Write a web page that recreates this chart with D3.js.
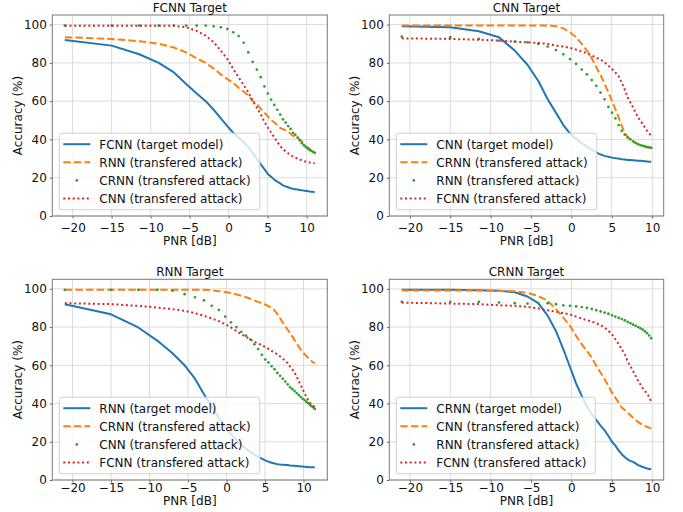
<!DOCTYPE html>
<html><head><meta charset="utf-8">
<script src="https://cdn.jsdelivr.net/npm/d3@7"></script>
<style>
body{margin:0;background:#fff;}
svg{display:block;font-family:"DejaVu Sans",sans-serif;}
</style>
</head><body>
<svg id="chart" width="683" height="512"></svg>
<script>
// ---------- DATA ----------
const pnrValues = [-21, -15, -11.46, -8.96, -7.02, -5.44, -4.1, -2.94, -1.92, -1, -0.17, 0.58, 1.28, 1.92, 2.52, 3.08, 3.61, 4.11, 4.58, 5.02, 5.44, 5.85, 6.23, 6.6, 6.96, 7.3, 7.63, 7.94, 8.25, 8.54, 8.83, 9.1, 9.37, 9.63, 9.88, 10.13, 10.36, 10.6, 10.82, 11.04, 11.26, 11.46];
const xTicks = [-20, -15, -10, -5, 0, 5, 10];
const yTicks = [0, 20, 40, 60, 80, 100];
const panelTitles = ["FCNN Target", "CNN Target", "RNN Target", "CRNN Target"];
const legendLabels = [
  ["FCNN (target model)", "RNN (transfered attack)", "CRNN (transfered attack)", "CNN (transfered attack)"],
  ["CNN (target model)", "CRNN (transfered attack)", "RNN (transfered attack)", "FCNN (transfered attack)"],
  ["RNN (target model)", "CRNN (transfered attack)", "CNN (transfered attack)", "FCNN (transfered attack)"],
  ["CRNN (target model)", "CNN (transfered attack)", "RNN (transfered attack)", "FCNN (transfered attack)"]
];

// FCNN target panel
const fcnnTgtFCNN = [92, 89, 84.5, 80, 75, 69, 64, 60, 55.5, 51, 47, 43.5, 41, 38.5, 36, 33, 30, 27, 24.5, 22, 20.5, 19, 18, 17, 16, 15.5, 15, 14.5, 14.2, 14, 13.8, 13.6, 13.4, 13.3, 13.1, 13, 12.8, 12.7, 12.6, 12.4];
const fcnnTgtRNN = [93.4, 92.5, 91.3, 90, 88, 85.5, 82.4, 80, 77, 74, 71.5, 69.5, 67, 65, 63, 60, 58.5, 56, 54, 52, 50, 49, 47.5, 46, 45.4, 44.7, 44, 43, 42, 41.5, 41, 40, 39, 38, 36.6, 35.8, 35.2, 34.3, 33.6, 33];
const fcnnTgtCRNN = [99.5, 99.5, 99.5, 99.5, 99.5, 99.5, 99.5, 99.5, 99.1, 98.6, 97.7, 96, 94, 90.5, 85.5, 80.5, 76.5, 72.5, 67.7, 64, 60.8, 58, 55.5, 53, 50.5, 48.8, 47, 45.5, 43.5, 42.5, 41, 39.5, 38, 37, 36, 35.3, 34.5, 34, 33.5, 33];
const fcnnTgtCNN = [99.4, 99.4, 99.4, 99.4, 99.4, 98.6, 96.7, 94.2, 90.8, 86.4, 82, 76.8, 72.4, 68.4, 64.6, 60.2, 56.7, 53.2, 49.2, 46.2, 43.6, 41, 38.7, 36.6, 34.9, 33.8, 32.8, 31.9, 31, 30.5, 30, 29.5, 29.1, 28.7, 28.4, 28.1, 27.9, 27.7, 27.6, 27.5];

// CNN target panel
const cnnTgtCNN = [99.1, 98.6, 96.5, 93.4, 86.4, 79, 70.5, 61, 54, 47.5, 43, 40.3, 38, 36.3, 34.6, 33.2, 32.1, 31.4, 30.9, 30.5, 30.2, 30, 29.7, 29.5, 29.3, 29.2, 29.1, 29, 28.9, 28.8, 28.7, 28.6, 28.5, 28.4, 28.3];
const cnnTgtCRNN = [99.5, 99.5, 99.5, 99.5, 99.5, 99.5, 99.5, 99.5, 99.1, 98, 96, 93.4, 89.9, 86.4, 82.4, 77.7, 73.6, 69, 64.6, 60.2, 55.8, 51.5, 47.1, 43.6, 41.4, 40, 39, 38.2, 37.5, 37, 36.7, 36.4, 36, 35.8, 35.5];
const cnnTgtRNN = [93.7, 93.4, 92.5, 91.6, 91.1, 90.7, 89.9, 88.5, 86.7, 84.5, 82, 79.5, 76.5, 74, 71, 68, 64.5, 61, 57, 54, 51, 47.5, 44.5, 42.5, 41, 40, 39, 38.2, 37.5, 37, 36.6, 36.3, 36, 35.8, 35.6];
const cnnTgtFCNN = [92.8, 92.5, 92.1, 91.6, 91.1, 90.7, 90.4, 89.9, 89, 88.5, 87.8, 86.9, 85.9, 85, 83.8, 82.7, 81.7, 80.3, 78.5, 76.8, 75, 73, 69.8, 66, 62, 59.3, 56.7, 54, 51.5, 49.7, 48, 46.2, 44.5, 43.1, 41.9];

// RNN target panel
const rnnTgtRNN = [92, 86.7, 79.8, 72.8, 66.3, 60, 53, 45, 38.5, 32.5, 27.4, 23.9, 20.9, 18.5, 16.4, 14.7, 13.3, 12, 11.2, 10.3, 9.6, 9, 8.6, 8.3, 8.1, 8, 7.9, 7.8, 7.6, 7.5, 7.4, 7.3, 7.2, 7.1, 7, 6.9, 6.8, 6.8, 6.7, 6.7, 6.7, 6.7];
const rnnTgtCRNN = [99.5, 99.5, 99.5, 99.5, 99.5, 99.5, 99.5, 99.5, 99.3, 98.8, 98.4, 97.8, 97.1, 96.4, 95.6, 94.8, 94, 93.2, 92.5, 91.8, 91, 90, 88.7, 86.8, 84.6, 82.4, 80.4, 78.6, 76.8, 75, 73.2, 71.5, 69.8, 68.3, 67, 65.8, 64.9, 63.9, 63, 62.2, 61.5, 61];
const rnnTgtCNN = [99.5, 99.5, 99.5, 99.5, 99, 97.2, 95.6, 94, 91.1, 89, 85.5, 82.5, 80, 77.5, 75.5, 73.5, 71, 68.5, 65.5, 63, 61.5, 59.5, 58, 56, 54.5, 53, 51.5, 50, 48.5, 47.5, 46.5, 45.5, 44.5, 43.5, 42.5, 41.8, 41, 40.2, 39.4, 38.6, 38, 37.2];
const rnnTgtFCNN = [92.5, 92, 91.1, 90.2, 89.4, 88.5, 87.3, 85.9, 84.5, 83.1, 81.5, 79.8, 78, 76.3, 74.9, 73.6, 72.4, 71.4, 70.5, 69.6, 68.6, 67.5, 66.7, 65.6, 64.6, 63.5, 62.3, 61.1, 59.3, 57.9, 56.2, 54.1, 51.8, 49.7, 47.5, 45.4, 43.6, 41.9, 40.5, 39.4, 38.7, 38.4];

// CRNN target panel
const crnnTgtCRNN = [99.5, 99.5, 99.3, 99, 98.2, 96, 92.5, 86, 78, 68.4, 59, 50.5, 44, 38.5, 34.5, 31.3, 28.5, 26, 23, 20, 18, 15.5, 13.5, 12, 10.8, 10, 9.5, 8.7, 7.8, 7.3, 6.8, 6.4, 6, 5.8, 5.6];
const crnnTgtCNN = [99.1, 99.1, 99.1, 99, 98.8, 97.9, 96.3, 93.7, 89.4, 85, 80.6, 75.4, 71, 67.5, 64, 59.7, 56.2, 52.7, 49.2, 45.7, 43.1, 40.5, 37.9, 36.6, 35.3, 33.9, 32.6, 31.4, 30.4, 29.5, 28.8, 28.3, 27.7, 27.4, 26.9];
const crnnTgtRNN = [93.2, 93.2, 93.2, 92.8, 92.5, 92.3, 92.5, 92.5, 92, 91.4, 91.1, 90.8, 90.5, 90, 89.5, 88.8, 88.2, 87.6, 87, 86.2, 85.5, 84.8, 84.2, 83.5, 82.7, 82, 81.3, 80.7, 80, 79.4, 78.7, 77.8, 76.8, 75.6, 74.2];
const crnnTgtFCNN = [92.8, 92.3, 92, 91.4, 91.1, 90.6, 89.7, 88.8, 88, 87.3, 86.6, 85.5, 84.5, 83.6, 82.9, 82, 81, 79.8, 78, 76.3, 73.6, 71, 68.4, 65.8, 62, 59.5, 57, 54.5, 52, 50, 48, 46.5, 45, 43.5, 41];

const panelSeries = [
  [fcnnTgtFCNN, fcnnTgtRNN, fcnnTgtCRNN, fcnnTgtCNN],
  [cnnTgtCNN, cnnTgtCRNN, cnnTgtRNN, cnnTgtFCNN],
  [rnnTgtRNN, rnnTgtCRNN, rnnTgtCNN, rnnTgtFCNN],
  [crnnTgtCRNN, crnnTgtCNN, crnnTgtRNN, crnnTgtFCNN]
];

// ---------- STYLE / LAYOUT ----------
const colors = ["#1f77b4", "#ff7f0e", "#2ca02c", "#d62728"];
const kinds = ["solid", "dashed", "dots", "dotted"];
const FS = 12;
const frames = [
  {l: 52.3, t: 15, r: 327.3, b: 216, xPad: 5, xlab: 244.5},
  {l: 389.3, t: 15, r: 663.7, b: 216, xPad: 5, xlab: 244.5},
  {l: 52.3, t: 279.3, r: 327.3, b: 480, xPad: 0.5, xlab: 505},
  {l: 389.3, t: 279.3, r: 663.7, b: 480, xPad: 0.5, xlab: 505}
];

const svg = d3.select("#chart");
svg.append("rect").attr("width", 683).attr("height", 512).attr("fill", "#fff");

panelSeries.forEach((series, i) => {
  const f = frames[i];
  const n = series[0].length;
  const xs = pnrValues.slice(0, n);
  const xmin = d3.min(xs), xmax = d3.max(xs), pad = 0.05 * (xmax - xmin);
  const x = d3.scaleLinear().domain([xmin - pad, xmax + pad]).range([f.l, f.r]);
  const y = d3.scaleLinear().domain([0, 105]).range([f.b, f.t]);
  const g = svg.append("g");

  // grid
  g.append("g").selectAll("line").data(xTicks).join("line")
    .attr("x1", d => x(d)).attr("x2", d => x(d)).attr("y1", f.t).attr("y2", f.b)
    .attr("stroke", "#dcdcdc").attr("stroke-width", 1);
  g.append("g").selectAll("line").data(yTicks).join("line")
    .attr("y1", d => y(d)).attr("y2", d => y(d)).attr("x1", f.l).attr("x2", f.r)
    .attr("stroke", "#dcdcdc").attr("stroke-width", 1);

  // axes
  const xa = g.append("g").attr("transform", `translate(0,${f.b})`)
    .call(d3.axisBottom(x).tickValues(xTicks).tickSize(2.5).tickPadding(f.xPad));
  const ya = g.append("g").attr("transform", `translate(${f.l},0)`)
    .call(d3.axisLeft(y).tickValues(yTicks).tickSize(2.5).tickPadding(3));
  [xa, ya].forEach(a => {
    a.select(".domain").remove();
    a.selectAll(".tick line").attr("stroke", "#666");
    a.selectAll("text").attr("font-size", FS).attr("fill", "#111").attr("font-family", "DejaVu Sans");
  });

  // series
  const line = d3.line().x((d, j) => x(xs[j])).y(d => y(d));
  series.forEach((vals, k) => {
    if (kinds[k] === "dots") {
      g.append("g").selectAll("circle").data(vals).join("circle")
        .attr("cx", (d, j) => x(xs[j])).attr("cy", d => y(d)).attr("r", 1.35)
        .attr("fill", colors[k]);
    } else {
      const p = g.append("path").attr("d", line(vals)).attr("fill", "none")
        .attr("stroke", colors[k]).attr("stroke-width", 2);
      if (kinds[k] === "dashed") p.attr("stroke-dasharray", "7.4,3.2");
      if (kinds[k] === "dotted") p.attr("stroke-dasharray", "2,2.7");
      if (kinds[k] === "solid") p.attr("stroke-linejoin", "round");
    }
  });

  // frame
  g.append("rect").attr("x", f.l).attr("y", f.t).attr("width", f.r - f.l).attr("height", f.b - f.t)
    .attr("fill", "none").attr("stroke", "#7a7a7a").attr("stroke-width", 1);

  // title & labels
  g.append("text").attr("x", (f.l + f.r) / 2).attr("y", f.t - 3).attr("text-anchor", "middle")
    .attr("font-size", FS).attr("fill", "#111").text(panelTitles[i]);
  g.append("text").attr("x", (f.l + f.r) / 2).attr("y", f.xlab).attr("text-anchor", "middle")
    .attr("font-size", FS).attr("fill", "#111").text("PNR [dB]");
  g.append("text").attr("transform", `translate(${f.l - 30.5},${(f.t + f.b) / 2}) rotate(-90)`)
    .attr("text-anchor", "middle").attr("font-size", FS).attr("fill", "#111").text("Accuracy (%)");

  // legend
  const lg = g.append("g");
  const bx = f.l + 7, bh = 76.5, by = f.b - 6.3 - bh;
  const box = lg.append("rect").attr("x", bx).attr("y", by).attr("height", bh).attr("rx", 2.5)
    .attr("fill", "#fff").attr("fill-opacity", 0.8).attr("stroke", "#d0d0d0").attr("stroke-width", 1);
  let maxW = 0;
  legendLabels[i].forEach((lab, k) => {
    const cy = by + 11 + k * 18.1;
    if (kinds[k] === "dots") {
      lg.append("circle").attr("cx", bx + 17.5).attr("cy", cy).attr("r", 1.35).attr("fill", colors[k]);
    } else {
      const h = lg.append("line").attr("x1", bx + 4).attr("x2", bx + 31).attr("y1", cy).attr("y2", cy)
        .attr("stroke", colors[k]).attr("stroke-width", 2);
      if (kinds[k] === "dashed") h.attr("stroke-dasharray", "7.4,3.2");
      if (kinds[k] === "dotted") h.attr("stroke-dasharray", "2,2.7");
    }
    const t = lg.append("text").attr("x", bx + 40).attr("y", cy + 4.3).attr("font-size", FS)
      .attr("fill", "#111").text(lab);
    maxW = Math.max(maxW, t.node().getComputedTextLength());
  });
  box.attr("width", 40 + maxW + 9);
});
</script>
</body></html>
